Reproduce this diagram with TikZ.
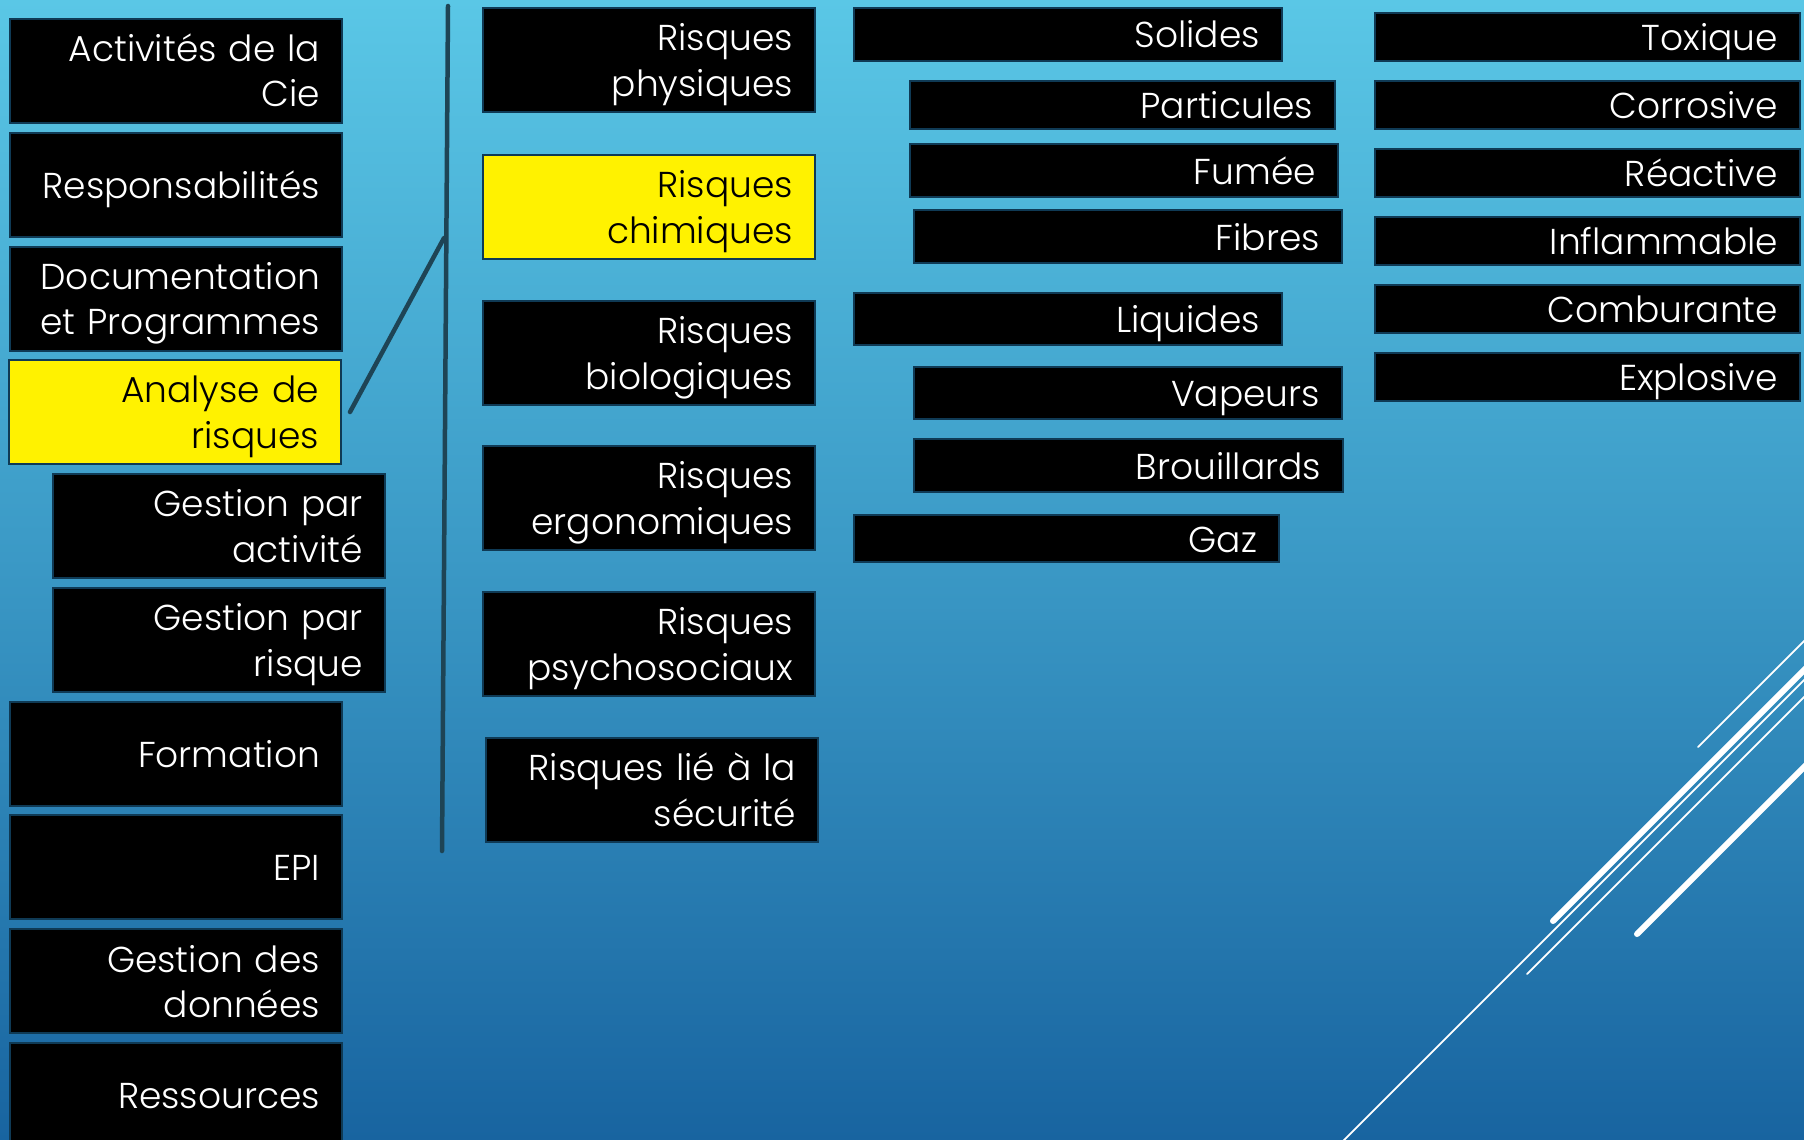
\documentclass[tikz,border=0pt]{standalone}
\usepackage{fontspec}
\setmainfont{Poppins}[UprightFont={* Light}]
\definecolor{bgtop}{HTML}{5AC7E6}
\definecolor{bgmid}{HTML}{3A98C5}
\definecolor{bgbot}{HTML}{1864A0}
\definecolor{boxline}{HTML}{0F3A55}
\definecolor{bracket}{HTML}{1E4455}
\newcommand\boxstrut{\rule[-9pt]{0pt}{45pt}}
\tikzset{
  box/.style={draw=boxline, line width=2pt, fill=black, text=white, align=right,
    anchor=north west, inner xsep=22pt, inner ysep=0pt,
    font=\fontsize{36}{45}\selectfont,
    execute at begin node=\boxstrut, execute at end node=\boxstrut},
  hl/.style={fill=yellow, text=black},
  colA/.style={text width=288pt, minimum height=104pt},
  colC/.style={text width=384pt, minimum height=52pt},
  colD/.style={text width=381pt, minimum height=48pt},
  brk/.style={draw=bracket, line width=4.5pt, line cap=round},
  deco/.style={draw=white, line cap=round},
}
\begin{document}
\begin{tikzpicture}[x=1pt, y=-1pt]
\useasboundingbox (0,0) rectangle (1804,1140);
\clip (0,0) rectangle (1804,1140);
\shade[top color=bgtop, bottom color=bgbot, middle color=bgmid] (0,0) rectangle (1804,1140);

% decorative white lines
\coordinate (w1a) at (1698,747); \coordinate (w1b) at (1830,615);
\coordinate (w2a) at (1553,921); \coordinate (w2b) at (1830,644);
\coordinate (w3a) at (1330,1154); \coordinate (w3b) at (1830,654);
\coordinate (w4a) at (1527,974); \coordinate (w4b) at (1830,671);
\coordinate (w5a) at (1637,934); \coordinate (w5b) at (1830,741);
\draw[deco, line width=1.8pt] (w1a) -- (w1b);
\draw[deco, line width=6pt] (w2a) -- (w2b);
\draw[deco, line width=1.8pt] (w3a) -- (w3b);
\draw[deco, line width=1.8pt] (w4a) -- (w4b);
\draw[deco, line width=6pt] (w5a) -- (w5b);

% left column
\node[box, colA] (act) at (9,18) {Activités de la\\Cie};
\node[box, colA] (resp) at (9,132) {Responsabilités};
\node[box, colA] (doc) at (9,246) {Documentation\\et Programmes};
\node[box, colA, hl] (ana) at (8,359) {Analyse de\\risques};
\node[box, colA] (gpa) at (52,473) {Gestion par\\activité};
\node[box, colA] (gpr) at (52,587) {Gestion par\\risque};
\node[box, colA] (form) at (9,701) {Formation};
\node[box, colA] (epi) at (9,814) {EPI};
\node[box, colA] (gdd) at (9,928) {Gestion des\\données};
\node[box, colA] (ress) at (9,1042) {Ressources};

% bracket
\coordinate (btop) at (448,6);
\coordinate (bbot) at (442,851);
\coordinate (bjoin) at (444,238);
\draw[brk] (btop) -- (bbot);
\draw[brk] ([xshift=8pt]ana.east) -- (bjoin);

% middle column
\node[box, colA] (rp) at (482,7) {Risques\\physiques};
\node[box, colA, hl] (rc) at (482,154) {Risques\\chimiques};
\node[box, colA] (rb) at (482,300) {Risques\\biologiques};
\node[box, colA] (re) at (482,445) {Risques\\ergonomiques};
\node[box, colA] (rps) at (482,591) {Risques\\psychosociaux};
\node[box, colA] (rs) at (485,737) {Risques lié à la\\sécurité};

% third column
\node[box, colC, minimum height=53pt] (sol) at (853,7) {Solides};
\node[box, colC, text width=381pt, minimum height=48pt] (par) at (909,80) {Particules};
\node[box, colC, minimum height=53pt] (fum) at (909,143) {Fumée};
\node[box, colC, minimum height=53pt] (fib) at (913,209) {Fibres};
\node[box, colC] (liq) at (853,292) {Liquides};
\node[box, colC] (vap) at (913,366) {Vapeurs};
\node[box, colC, text width=385pt, minimum height=53pt] (bro) at (913,438) {Brouillards};
\node[box, colC, text width=381pt, minimum height=47pt] (gaz) at (853,514) {Gaz};

% fourth column
\node[box, colD] (tox) at (1374,12) {Toxique};
\node[box, colD] (cor) at (1374,80) {Corrosive};
\node[box, colD] (rea) at (1374,148) {Réactive};
\node[box, colD] (inf) at (1374,216) {Inflammable};
\node[box, colD] (com) at (1374,284) {Comburante};
\node[box, colD] (exp) at (1374,352) {Explosive};
\end{tikzpicture}
\end{document}
